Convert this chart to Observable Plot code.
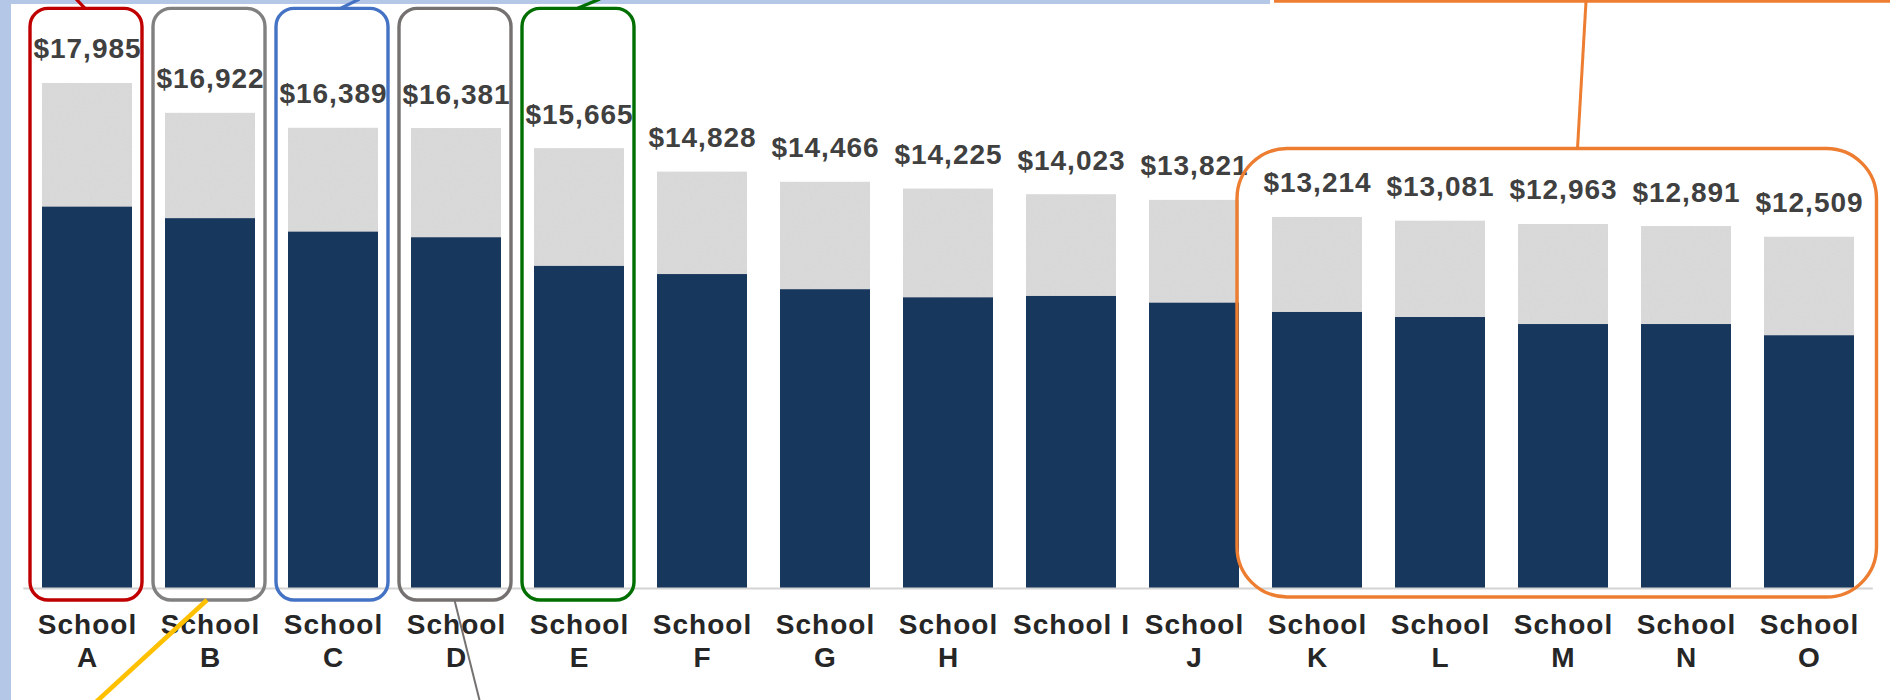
<!DOCTYPE html>
<html>
<head>
<meta charset="utf-8">
<script src="https://cdn.jsdelivr.net/npm/d3@7"></script>
<script src="https://cdn.jsdelivr.net/npm/@observablehq/plot@0.6"></script>
<style>
  html, body { margin: 0; padding: 0; background: #fff; }
  #chart svg text { letter-spacing: 1px; }
</style>
</head>
<body>
<div id="chart"></div>
<script>
// ---- data ----
const schools = ["School A","School B","School C","School D","School E","School F","School G","School H","School I","School J","School K","School L","School M","School N","School O"];
const tickLabels = ["School\nA","School\nB","School\nC","School\nD","School\nE","School\nF","School\nG","School\nH","School I","School\nJ","School\nK","School\nL","School\nM","School\nN","School\nO"];
const totalPerPupil = [17985,16922,16389,16381,15665,14828,14466,14225,14023,13821,13214,13081,12963,12891,12509];
const localPerPupil = [13580,13170,12690,12490,11470,11180,10640,10350,10400,10160,9830,9650,9400,9400,9000];
const calloutSchools = ["School A","School B","School C","School D","School E"];
const calloutColors = ["#c00000","#808080","#4472c4","#767171","#006f00"];
const groupSchools = ["School K","School L","School M","School N","School O"];
const groupColor = "#ed7d31";

const data = schools.map((s, i) => ({school: s, total: totalPerPupil[i], local: localPerPupil[i], label: tickLabels[i]}));
const labelOf = new Map(data.map(d => [d.school, d.label]));
const fmt = d3.format(",");

// texture for the grey bars
function defsMark() {
  const g = d3.create("svg:g");
  const defs = g.append("defs");
  const f = defs.append("filter").attr("id", "grainFilter").attr("x", 0).attr("y", 0).attr("width", "100%").attr("height", "100%");
  f.append("feTurbulence").attr("type", "fractalNoise").attr("baseFrequency", 0.9).attr("numOctaves", 2).attr("seed", 3).attr("result", "n");
  f.append("feColorMatrix").attr("in", "n").attr("type", "matrix")
    .attr("values", "0 0 0 0 0.6  0 0 0 0 0.6  0 0 0 0 0.6  0.5 0 0 0 -0.15");
  const p = defs.append("pattern").attr("id", "grain").attr("patternUnits", "userSpaceOnUse").attr("width", 120).attr("height", 120);
  p.append("rect").attr("width", 120).attr("height", 120).attr("fill", "#dadada");
  p.append("rect").attr("width", 120).attr("height", 120).attr("filter", "url(#grainFilter)");
  return g.node();
}

// slide decorations: frame strips, group box and leader lines
function decorations(index, scales, values, dims) {
  const {x} = scales;
  const bw = x.bandwidth();
  const cx = s => x(s) + bw / 2;
  const top = dims.marginTop - 18;
  const bottom = dims.height - dims.marginBottom + 12;
  const g = d3.create("svg:g").attr("fill", "none");
  // light blue frame pieces
  g.append("rect").attr("x", 0).attr("y", 0).attr("width", 11).attr("height", dims.height).attr("fill", "#b4c7e7");
  g.append("rect").attr("x", 0).attr("y", 0).attr("width", cx("School K") - 47).attr("height", 4).attr("fill", "#b4c7e7");
  // orange top line
  g.append("line").attr("x1", cx("School K") - 43).attr("x2", dims.width).attr("y1", 1.4).attr("y2", 1.4)
    .attr("stroke", groupColor).attr("stroke-width", 2.8);
  // group box
  const gl = cx(groupSchools[0]) - 80, gr = cx(groupSchools[groupSchools.length - 1]) + 67.5;
  const gt = 148.5, gb = bottom - 3;
  g.append("rect").attr("x", gl).attr("y", gt).attr("width", gr - gl).attr("height", gb - gt)
    .attr("rx", 50).attr("ry", 50).attr("stroke", groupColor).attr("stroke-width", 3.4);
  const cm = cx("School M");
  g.append("line").attr("x1", cm + 14.5).attr("y1", gt).attr("x2", cm + 23).attr("y2", 1.4)
    .attr("stroke", groupColor).attr("stroke-width", 3);
  // leader lines of single callouts
  const leaders = [
    ["School A", -2, top, -11, -1, calloutColors[0], 3.2],
    ["School C", 7.5, top, 26.5, -1, calloutColors[2], 3.2],
    ["School E", -2, top, 21, -1, calloutColors[4], 3.2],
    ["School B", -3, bottom, -114, dims.height + 2, "#ffc000", 4.6],
    ["School D", -1.5, bottom, 24, dims.height + 2, "#767171", 2]
  ];
  for (const [s, dx1, y1, dx2, y2, c, w] of leaders) {
    g.append("line").attr("x1", cx(s) + dx1).attr("y1", y1).attr("x2", cx(s) + dx2).attr("y2", y2)
      .attr("stroke", c).attr("stroke-width", w);
  }
  return g.node();
}

const chart = Plot.plot({
  width: 1890,
  height: 700,
  marginTop: 26.4,
  marginBottom: 112,
  marginLeft: 23.3,
  marginRight: 17.2,
  x: {domain: schools, paddingInner: 0.268, paddingOuter: 0.134, axis: null},
  y: {domain: [0, 20000], axis: null},
  style: {fontFamily: "'Liberation Sans', Arial, sans-serif", background: "#fff", overflow: "visible"},
  marks: [
    defsMark,
    Plot.barY(data, {x: "school", y: "total", fill: "url(#grain)"}),
    Plot.barY(data, {x: "school", y: "local", fill: "#18375d"}),
    Plot.ruleY([0], {stroke: "#d4d4d4", strokeWidth: 2}),
    Plot.text(data, {x: "school", y: "total", text: d => "$" + fmt(d.total), dy: -25, lineAnchor: "bottom",
      fontSize: 28, fontWeight: "bold", fill: "#404040"}),
    Plot.axisX({tickSize: 0, tickPadding: 21.5, fontSize: 28, fontWeight: "bold", color: "#262626",
      lineHeight: 1.19, label: null, tickFormat: d => labelOf.get(d)}),
    ...calloutSchools.map((s, i) => Plot.cell([s], {x: d => d, fill: "none", stroke: calloutColors[i], strokeWidth: 3.4,
      rx: 18, insetLeft: -12, insetRight: -10, insetTop: -18, insetBottom: -12})),
    decorations
  ]
});
document.getElementById("chart").appendChild(chart);
</script>
</body>
</html>
